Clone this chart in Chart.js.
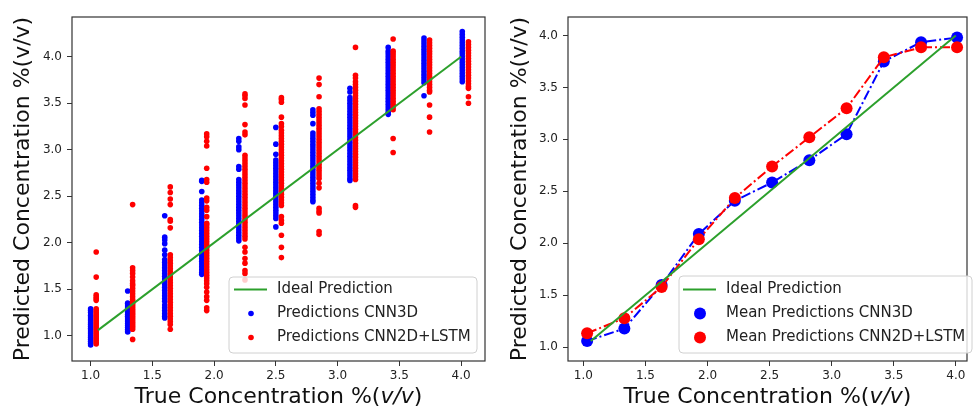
<!DOCTYPE html>
<html>
<head>
<meta charset="utf-8">
<script src="https://cdn.jsdelivr.net/npm/chart.js@4.4.1/dist/chart.umd.min.js"></script>
<style>
  body { margin: 0; background: #fff; }
  #wrap { position: relative; width: 973px; height: 408px; }
  canvas { position: absolute; top: 0; }
</style>
</head>
<body>
<div id="wrap">
  <canvas id="scatterChart" width="490" height="408" style="left:0"></canvas>
  <canvas id="meanChart" width="483" height="408" style="left:490px"></canvas>
</div>
<script>
// left plot: x of each sample group (CNN3D sits a bit left of CNN2D+LSTM)
const cnn3dX = [1.00, 1.30, 1.60, 1.90, 2.20, 2.50, 2.80, 3.10, 3.41, 3.70, 4.01];
const lstmX = [1.045, 1.34, 1.645, 1.94, 2.25, 2.545, 2.85, 3.145, 3.45, 3.745, 4.06];

// predictions per group
const cnn3dPreds = [
  [1.29, 1.27, 1.25, 1.22, 1.20, 1.18, 1.16, 1.14, 1.12, 1.10, 1.08, 1.06, 1.04, 1.02, 1.00, 0.98, 0.96, 0.94, 0.92, 0.90],
  [1.48, 1.35, 1.33, 1.31, 1.29, 1.27, 1.25, 1.23, 1.21, 1.19, 1.17, 1.15, 1.13, 1.11, 1.09, 1.07, 1.05, 1.04],
  [2.29, 2.06, 2.03, 1.99, 1.92, 1.87, 1.82, 1.79, 1.76, 1.73, 1.70, 1.67, 1.64, 1.61, 1.58, 1.55, 1.52, 1.49, 1.46, 1.43, 1.40, 1.37, 1.33, 1.30, 1.27, 1.24, 1.21, 1.19],
  [2.67, 2.66, 2.55, 2.46, 2.43, 2.40, 2.37, 2.34, 2.31, 2.28, 2.25, 2.22, 2.19, 2.16, 2.13, 2.10, 2.07, 2.04, 2.01, 1.98, 1.95, 1.92, 1.89, 1.86, 1.83, 1.80, 1.77, 1.74, 1.71, 1.68, 1.66],
  [3.12, 3.09, 3.03, 3.00, 2.82, 2.79, 2.68, 2.65, 2.62, 2.59, 2.56, 2.53, 2.50, 2.47, 2.44, 2.41, 2.38, 2.35, 2.32, 2.29, 2.26, 2.23, 2.20, 2.17, 2.14, 2.11, 2.08, 2.05, 2.02],
  [3.24, 3.06, 2.95, 2.89, 2.86, 2.83, 2.80, 2.77, 2.74, 2.71, 2.68, 2.65, 2.62, 2.59, 2.56, 2.53, 2.50, 2.47, 2.44, 2.41, 2.38, 2.35, 2.32, 2.29, 2.26, 2.17],
  [3.43, 3.40, 3.37, 3.28, 3.18, 3.15, 3.12, 3.09, 3.06, 3.03, 3.00, 2.97, 2.94, 2.91, 2.88, 2.85, 2.82, 2.79, 2.76, 2.73, 2.70, 2.67, 2.64, 2.61, 2.58, 2.55, 2.52, 2.49, 2.46, 2.44],
  [3.66, 3.62, 3.56, 3.53, 3.50, 3.47, 3.44, 3.41, 3.38, 3.35, 3.32, 3.29, 3.26, 3.23, 3.20, 3.17, 3.14, 3.11, 3.08, 3.05, 3.02, 2.99, 2.96, 2.93, 2.90, 2.87, 2.84, 2.81, 2.78, 2.75, 2.72, 2.69, 2.67],
  [4.10, 4.06, 4.03, 4.00, 3.97, 3.94, 3.91, 3.88, 3.85, 3.82, 3.79, 3.76, 3.73, 3.70, 3.67, 3.64, 3.61, 3.58, 3.55, 3.52, 3.49, 3.46, 3.43, 3.40, 3.38],
  [4.20, 4.17, 4.14, 4.11, 4.08, 4.05, 4.02, 3.99, 3.96, 3.93, 3.90, 3.87, 3.84, 3.81, 3.78, 3.75, 3.72, 3.58],
  [4.27, 4.24, 4.21, 4.18, 4.15, 4.12, 4.09, 4.06, 4.03, 4.00, 3.97, 3.94, 3.91, 3.88, 3.85, 3.82, 3.79, 3.76, 3.73]
];
const lstmPreds = [
  [1.90, 1.63, 1.44, 1.42, 1.40, 1.38, 1.29, 1.27, 1.25, 1.23, 1.21, 1.19, 1.17, 1.15, 1.13, 1.11, 1.09, 1.07, 1.05, 1.03, 1.01, 0.99, 0.97, 0.95, 0.93, 0.91],
  [2.41, 1.73, 1.70, 1.67, 1.63, 1.59, 1.56, 1.54, 1.51, 1.48, 1.45, 1.42, 1.39, 1.37, 1.35, 1.33, 1.31, 1.29, 1.27, 1.25, 1.23, 1.21, 1.19, 1.17, 1.15, 1.13, 1.11, 1.09, 1.07, 0.96],
  [2.60, 2.54, 2.47, 2.41, 2.25, 2.23, 2.16, 1.87, 1.84, 1.81, 1.78, 1.75, 1.72, 1.69, 1.66, 1.63, 1.60, 1.57, 1.54, 1.51, 1.48, 1.45, 1.42, 1.39, 1.36, 1.33, 1.30, 1.27, 1.24, 1.21, 1.18, 1.15, 1.12, 1.07],
  [3.17, 3.14, 3.09, 3.04, 2.80, 2.68, 2.65, 2.48, 2.45, 2.38, 2.35, 2.28, 2.21, 2.19, 2.16, 2.13, 2.10, 2.07, 2.04, 2.01, 1.98, 1.95, 1.92, 1.89, 1.86, 1.83, 1.80, 1.77, 1.74, 1.71, 1.68, 1.65, 1.62, 1.59, 1.56, 1.52, 1.47, 1.42, 1.38, 1.30, 1.27],
  [3.60, 3.58, 3.55, 3.48, 3.27, 3.19, 3.16, 2.94, 2.91, 2.88, 2.85, 2.82, 2.79, 2.76, 2.73, 2.70, 2.67, 2.64, 2.61, 2.58, 2.55, 2.52, 2.49, 2.46, 2.43, 2.40, 2.37, 2.34, 2.31, 2.28, 2.25, 2.22, 2.19, 2.16, 2.13, 2.10, 2.07, 2.04, 1.95, 1.90, 1.83, 1.78, 1.70, 1.67, 1.60],
  [3.56, 3.54, 3.51, 3.35, 3.28, 3.25, 3.21, 3.18, 3.15, 3.12, 3.09, 3.06, 3.03, 3.00, 2.97, 2.94, 2.91, 2.88, 2.85, 2.82, 2.79, 2.76, 2.73, 2.70, 2.67, 2.64, 2.61, 2.58, 2.55, 2.52, 2.49, 2.46, 2.43, 2.40, 2.28, 2.24, 2.21, 2.08, 1.95, 1.84],
  [3.77, 3.70, 3.57, 3.44, 3.41, 3.38, 3.35, 3.32, 3.29, 3.26, 3.23, 3.20, 3.17, 3.14, 3.11, 3.08, 3.05, 3.02, 2.99, 2.96, 2.93, 2.90, 2.87, 2.84, 2.81, 2.78, 2.75, 2.72, 2.69, 2.64, 2.59, 2.37, 2.34, 2.32, 2.12, 2.09],
  [4.10, 3.80, 3.77, 3.73, 3.70, 3.67, 3.64, 3.61, 3.58, 3.55, 3.52, 3.49, 3.46, 3.43, 3.40, 3.37, 3.34, 3.31, 3.28, 3.25, 3.22, 3.19, 3.16, 3.13, 3.10, 3.07, 3.04, 3.01, 2.98, 2.95, 2.92, 2.89, 2.86, 2.83, 2.80, 2.77, 2.74, 2.71, 2.68, 2.40, 2.38],
  [4.19, 4.06, 4.03, 4.00, 3.97, 3.94, 3.91, 3.88, 3.85, 3.82, 3.79, 3.76, 3.73, 3.70, 3.67, 3.64, 3.61, 3.58, 3.55, 3.52, 3.49, 3.46, 3.43, 3.12, 2.97],
  [4.18, 4.15, 4.12, 4.09, 4.06, 4.03, 4.00, 3.97, 3.94, 3.91, 3.88, 3.85, 3.82, 3.79, 3.76, 3.73, 3.70, 3.67, 3.64, 3.62, 3.48, 3.35, 3.19],
  [4.16, 4.13, 4.10, 4.07, 4.04, 4.01, 3.98, 3.95, 3.92, 3.89, 3.86, 3.83, 3.80, 3.77, 3.74, 3.71, 3.68, 3.66, 3.57, 3.50]
];

// right plot: mean prediction per concentration
const meanX = [1.03, 1.33, 1.63, 1.93, 2.22, 2.52, 2.82, 3.12, 3.42, 3.72, 4.01];
const cnn3dMean = [1.06, 1.18, 1.60, 2.09, 2.41, 2.585, 2.80, 3.05, 3.75, 3.935, 3.98];
const lstmMean = [1.135, 1.28, 1.58, 2.04, 2.435, 2.74, 3.02, 3.30, 3.79, 3.885, 3.885];

const idealX = [1.06, 4.0];
const idealY = [1.06, 4.0];
const tickValues = [1.0, 1.5, 2.0, 2.5, 3.0, 3.5, 4.0];

const FONT = 'DejaVu Sans';

function toPoints(xs, groups) {
  return groups.flatMap((ys, i) => ys.map(y => ({x: xs[i], y: y})));
}

// box around plot, x title with italic v/v, legend inside the axes
const decor = {
  id: 'decor',
  afterDraw(chart, args, opts) {
    const {ctx, chartArea: a} = chart;
    ctx.save();
    ctx.strokeStyle = '#333';
    ctx.lineWidth = 1.2;
    ctx.strokeRect(a.left, a.top, a.right - a.left, a.bottom - a.top);

    const parts = [['True Concentration %(', ''], ['v/v', 'italic '], [')', '']];
    let total = 0;
    parts.forEach(p => {
      ctx.font = p[1] + '22px "' + FONT + '"';
      total += ctx.measureText(p[0]).width;
    });
    let x = (a.left + a.right) / 2 - total / 2;
    ctx.fillStyle = '#111';
    ctx.textBaseline = 'alphabetic';
    ctx.textAlign = 'left';
    parts.forEach(p => {
      ctx.font = p[1] + '22px "' + FONT + '"';
      ctx.fillText(p[0], x, opts.titleY);
      x += ctx.measureText(p[0]).width;
    });

    const lg = opts.legend;
    ctx.beginPath();
    ctx.roundRect(lg.x, lg.y, lg.w, lg.h, 4);
    ctx.fillStyle = 'rgba(255,255,255,0.8)';
    ctx.fill();
    ctx.strokeStyle = '#d0d0d0';
    ctx.lineWidth = 1;
    ctx.stroke();

    ctx.font = '15px "' + FONT + '"';
    ctx.textBaseline = 'middle';
    chart.data.datasets.forEach((ds, i) => {
      const y = lg.rowY[i];
      if (ds.pointRadius > 0) {
        ctx.beginPath();
        ctx.arc(lg.markX, y, ds.pointRadius, 0, Math.PI * 2);
        ctx.fillStyle = ds.backgroundColor;
        ctx.fill();
      } else {
        ctx.beginPath();
        ctx.moveTo(lg.lineX0, y);
        ctx.lineTo(lg.lineX1, y);
        ctx.strokeStyle = ds.borderColor;
        ctx.lineWidth = ds.borderWidth;
        ctx.stroke();
      }
      ctx.fillStyle = '#222';
      ctx.fillText(ds.label, lg.textX, y);
    });
    ctx.restore();
  }
};

function scales(xMin, xMax, yMin, yMax, yWidth, titlePad) {
  const tickStyle = {
    callback: v => v.toFixed(1),
    font: {size: 12, family: FONT},
    color: '#222',
    maxRotation: 0,
    autoSkip: false
  };
  const grid = {drawOnChartArea: false, drawTicks: true, tickLength: 5, color: '#333'};
  return {
    x: {
      type: 'linear', min: xMin, max: xMax,
      afterBuildTicks: s => { s.ticks = tickValues.map(v => ({value: v})); },
      afterFit: s => { s.height = 47; },
      ticks: Object.assign({padding: 3}, tickStyle),
      grid: grid,
      border: {display: false}
    },
    y: {
      type: 'linear', min: yMin, max: yMax,
      afterBuildTicks: s => { s.ticks = tickValues.map(v => ({value: v})); },
      afterFit: s => { s.width = yWidth; },
      ticks: Object.assign({padding: 5}, tickStyle),
      grid: grid,
      border: {display: false},
      title: {
        display: true,
        text: 'Predicted Concentration %(v/v)',
        font: {size: 22, family: FONT},
        color: '#111',
        padding: {top: titlePad, bottom: 0}
      }
    }
  };
}

new Chart(document.getElementById('scatterChart'), {
  type: 'scatter',
  data: {
    datasets: [
      {
        label: 'Ideal Prediction',
        data: idealX.map((x, i) => ({x: x, y: idealY[i]})),
        showLine: true, borderColor: '#2ca02c', borderWidth: 2,
        pointRadius: 0, order: 0
      },
      {
        label: 'Predictions CNN3D',
        data: toPoints(cnn3dX, cnn3dPreds),
        backgroundColor: '#0000ff', borderWidth: 0,
        pointRadius: 2.8, order: 2
      },
      {
        label: 'Predictions CNN2D+LSTM',
        data: toPoints(lstmX, lstmPreds),
        backgroundColor: '#ff0000', borderWidth: 0,
        pointRadius: 2.8, order: 1
      }
    ]
  },
  options: {
    responsive: false,
    animation: false,
    layout: {padding: {left: 0, top: 17, right: 5, bottom: 0}},
    scales: scales(0.849, 4.194, 0.728, 4.427, 72, 10.4),
    plugins: {
      legend: {display: false},
      tooltip: {enabled: false},
      decor: {
        titleY: 403,
        legend: {x: 229, y: 277, w: 248, h: 76, lineX0: 234, lineX1: 267, markX: 251, textX: 277, rowY: [289.5, 313.5, 337.5]}
      }
    }
  },
  plugins: [decor]
});

new Chart(document.getElementById('meanChart'), {
  type: 'scatter',
  data: {
    datasets: [
      {
        label: 'Ideal Prediction',
        data: idealX.map((x, i) => ({x: x, y: idealY[i]})),
        showLine: true, borderColor: '#2ca02c', borderWidth: 2,
        pointRadius: 0, order: 0
      },
      {
        label: 'Mean Predictions CNN3D',
        data: meanX.map((x, i) => ({x: x, y: cnn3dMean[i]})),
        showLine: true, borderColor: '#0000ff', borderWidth: 2, borderDash: [10, 3, 2, 3],
        backgroundColor: '#0000ff', pointBorderWidth: 0,
        pointRadius: 6, order: 2
      },
      {
        label: 'Mean Predictions CNN2D+LSTM',
        data: meanX.map((x, i) => ({x: x, y: lstmMean[i]})),
        showLine: true, borderColor: '#ff0000', borderWidth: 2, borderDash: [10, 3, 2, 3],
        backgroundColor: '#ff0000', pointBorderWidth: 0,
        pointRadius: 6, order: 1
      }
    ]
  },
  options: {
    responsive: false,
    animation: false,
    layout: {padding: {left: 0, top: 17, right: 1, bottom: 0}},
    scales: scales(0.876, 4.09, 0.868, 4.177, 78, 17.4),
    plugins: {
      legend: {display: false},
      tooltip: {enabled: false},
      decor: {
        titleY: 403,
        legend: {x: 189, y: 276, w: 293, h: 77, lineX0: 193, lineX1: 226, markX: 210, textX: 236, rowY: [289.5, 313.5, 337.5]}
      }
    }
  },
  plugins: [decor]
});
</script>
</body>
</html>
